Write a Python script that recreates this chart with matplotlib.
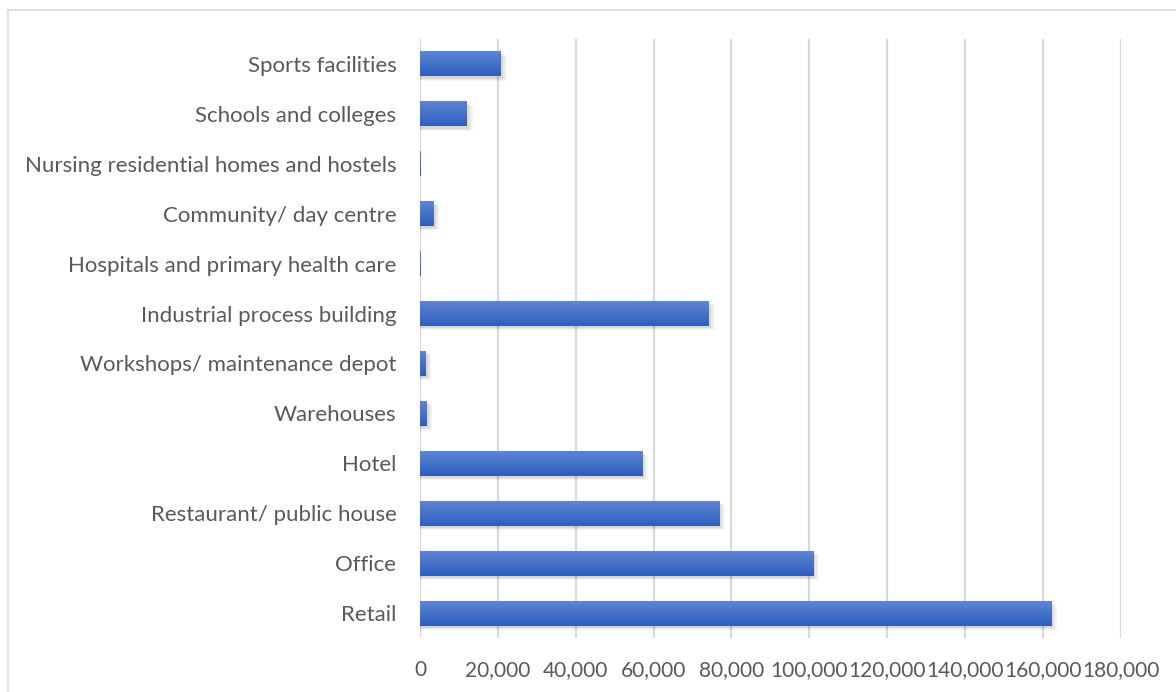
import matplotlib.pyplot as plt
import numpy as np
from matplotlib.patches import Rectangle
from matplotlib.ticker import FuncFormatter

# building types, listed bottom to top as drawn
categories = [
    "Retail",
    "Office",
    "Restaurant/ public house",
    "Hotel",
    "Warehouses",
    "Workshops/ maintenance depot",
    "Industrial process building",
    "Hospitals and primary health care",
    "Community/ day centre",
    "Nursing residential homes and hostels",
    "Schools and colleges",
    "Sports facilities",
]
floor_area = [162200, 101000, 76900, 57100, 1700, 1450, 74200, 30, 3500, 30, 12000, 20800]
x_ticks = list(range(0, 180001, 20000))

text_color = "#595959"
grid_color = "#d9d9d9"
top_blue = np.array([0x5f, 0x85, 0xd3]) / 255
bottom_blue = np.array([0x2d, 0x5e, 0xbe]) / 255

plt.rcParams["font.family"] = ["Lato", "DejaVu Sans"]

fig = plt.figure(figsize=(11.76, 6.92), dpi=100)
ax = fig.add_axes([420 / 1176, 1 - 638 / 692, 700.7 / 1176, 599 / 692])

# outer chart frame
fig.patches.append(Rectangle((8 / 1176, -0.01), 1.0, 1 - 10 / 692 + 0.01,
                             transform=fig.transFigure, fill=False,
                             edgecolor=grid_color, linewidth=1.2))

y = np.arange(len(categories))
bar_h = 0.5

# vertical gradient image used for every bar
grad = np.linspace(0, 1, 64)[:, None]
grad_img = top_blue[None, None, :] * (1 - grad[..., None]) + bottom_blue[None, None, :] * grad[..., None]

for yi, val in zip(y, floor_area):
    # soft drop shadow, kept to the bar's own length for tiny values
    ext = 500 if val > 1000 else 0
    for k, a in enumerate([0.04, 0.05, 0.07]):
        off = (3 - k) * 0.018
        ax.add_patch(Rectangle((0, yi - bar_h / 2 - off - 0.03), val + (3 - k) * ext, bar_h,
                               facecolor="black", alpha=a, edgecolor="none", zorder=2))
    bar = Rectangle((0, yi - bar_h / 2), val, bar_h, facecolor="none", edgecolor="none", zorder=3)
    ax.add_patch(bar)
    im = ax.imshow(grad_img, extent=(0, val, yi - bar_h / 2, yi + bar_h / 2),
                   aspect="auto", origin="upper", zorder=3, interpolation="bilinear")
    im.set_clip_path(bar)

ax.set_xlim(0, 180000)
ax.set_ylim(-0.5, len(categories) - 0.5)
ax.set_xticks(x_ticks)
ax.xaxis.set_major_formatter(FuncFormatter(lambda v, p: f"{int(v):,}"))
ax.set_yticks(y)
ax.set_yticklabels(categories)

ax.grid(axis="x", color=grid_color, linewidth=1.6, zorder=0)
ax.set_axisbelow(True)
for s in ax.spines.values():
    s.set_visible(False)
ax.tick_params(axis="both", length=0, labelcolor=text_color)
ax.tick_params(axis="y", pad=17, labelsize=16)
ax.tick_params(axis="x", pad=16, labelsize=15)

fig.savefig("out.png", dpi=100)
